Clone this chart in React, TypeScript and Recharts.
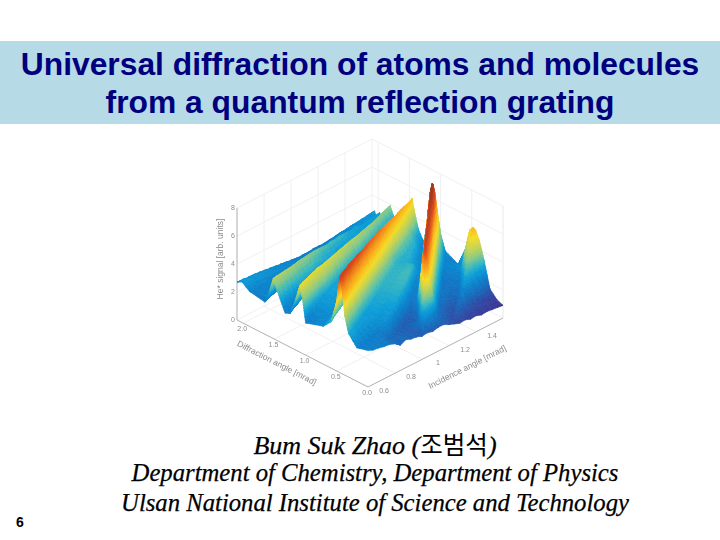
import React from "react";
import { ComposedChart, Scatter, Line, ReferenceLine, XAxis, YAxis } from "recharts";

// Incidence angle of each slice (mrad)
const incidenceAngles = [0.6, 0.64, 0.68, 0.72, 0.76, 0.8, 0.84, 0.88, 0.92, 0.96, 1.0, 1.04, 1.08, 1.12, 1.16, 1.2, 1.24, 1.28, 1.32, 1.36, 1.4, 1.44, 1.48, 1.52, 1.56, 1.6];

// Each slice: [diffraction angle (mrad), He+ signal] read along the surface
const s00 = [[0,2.6],[.18,2.4],[.31,3.1],[.37,4.2],[.41,5.8],[.45,6.9],[.5,5.0],[.59,3.3],[.72,2.7],[1.0,2.3],[1.05,3.9],[1.09,4.8],[1.16,3.6],[1.25,2.4],[1.33,2.25],[1.46,3.6],[1.52,4.3],[1.58,3.2],[1.65,2.3],[1.9,2.5],[2.02,2.9],[2.1,2.7]];
const s01 = [[0,2.45],[.2,2.4],[.35,3.1],[.41,4.1],[.45,5.9],[.49,6.9],[.54,5.2],[.63,3.4],[.76,2.7],[1.03,2.4],[1.08,4.0],[1.12,4.8],[1.19,3.7],[1.28,2.5],[1.36,2.3],[1.48,3.6],[1.54,4.25],[1.6,3.2],[1.67,2.4],[1.9,2.5],[2.02,2.95],[2.1,2.7]];
const s02 = [[0,2.4],[.22,2.4],[.39,3.0],[.45,4.0],[.49,5.7],[.53,6.85],[.58,5.3],[.67,3.4],[.8,2.7],[1.06,2.5],[1.11,4.1],[1.15,4.75],[1.22,3.7],[1.31,2.5],[1.39,2.4],[1.5,3.6],[1.56,4.2],[1.62,3.2],[1.69,2.4],[1.9,2.5],[2.02,2.8],[2.1,2.65]];
const s03 = [[0,2.3],[.24,2.4],[.43,3.0],[.49,4.0],[.53,5.7],[.57,6.85],[.62,5.3],[.71,3.4],[.84,2.7],[1.09,2.7],[1.15,4.3],[1.18,4.75],[1.25,3.7],[1.34,2.6],[1.41,2.4],[1.52,3.6],[1.58,4.15],[1.64,3.2],[1.71,2.4],[1.9,2.5],[2.02,2.9],[2.1,2.65]];
const s04 = [[0,2.25],[.26,2.4],[.47,3.0],[.53,3.9],[.57,5.6],[.61,6.8],[.66,5.3],[.75,3.4],[.88,2.8],[1.12,2.9],[1.18,4.3],[1.21,4.7],[1.28,3.7],[1.37,2.6],[1.44,2.4],[1.54,3.6],[1.6,4.1],[1.66,3.2],[1.73,2.4],[1.9,2.45],[2.02,2.75],[2.1,2.6]];
const s05 = [[0,2.1],[.14,2.1],[.28,2.5],[.51,3.0],[.57,3.9],[.61,5.5],[.65,6.7],[.7,5.2],[.79,3.4],[.92,2.8],[1.15,3.0],[1.21,4.3],[1.24,4.7],[1.31,3.7],[1.45,2.6],[1.56,3.6],[1.62,4.05],[1.68,3.2],[1.75,2.4],[1.9,2.4],[2.02,2.8],[2.1,2.55]];
const s06 = [[0,1.8],[.17,1.95],[.25,2.5],[.4,2.8],[.55,3.0],[.61,3.8],[.65,5.4],[.69,6.7],[.74,5.2],[.83,3.4],[.96,2.8],[1.17,3.1],[1.23,4.3],[1.26,4.65],[1.33,3.7],[1.47,2.7],[1.59,3.6],[1.65,4.0],[1.71,3.1],[1.78,2.4],[1.9,2.4],[2.02,2.65],[2.1,2.5]];
const s07 = [[0,2.0],[.2,1.9],[.29,2.7],[.43,2.9],[.59,3.1],[.65,3.8],[.69,5.3],[.73,6.6],[.78,5.1],[.87,3.4],[1.0,2.8],[1.2,3.1],[1.26,4.2],[1.29,4.6],[1.36,3.7],[1.5,2.7],[1.61,3.6],[1.67,3.95],[1.73,3.1],[1.8,2.4],[1.9,2.35],[2.02,2.7],[2.1,2.45]];
const s08 = [[0,1.85],[.24,1.8],[.34,2.8],[.48,3.0],[.63,3.1],[.69,3.8],[.73,5.2],[.77,6.5],[.82,5.0],[.91,3.3],[1.04,2.8],[1.23,3.1],[1.29,4.2],[1.32,4.55],[1.39,3.7],[1.53,2.8],[1.63,3.6],[1.69,3.9],[1.75,3.1],[1.82,2.4],[1.92,2.3],[2.02,2.55],[2.1,2.4]];
const s09 = [[0,1.8],[.28,1.8],[.39,2.9],[.52,3.0],[.67,3.2],[.73,3.8],[.77,5.2],[.81,6.5],[.86,5.0],[.95,3.3],[1.08,2.8],[1.26,3.1],[1.32,4.1],[1.35,4.5],[1.42,3.6],[1.56,2.8],[1.65,3.5],[1.71,3.85],[1.77,3.0],[1.84,2.4],[1.93,2.3],[2.02,2.6],[2.1,2.35]];
const s10 = [[0,1.65],[.32,1.7],[.43,3.1],[.56,3.1],[.71,3.2],[.77,3.8],[.81,5.1],[.85,6.4],[.9,4.9],[.99,3.2],[1.12,2.8],[1.29,3.1],[1.35,4.1],[1.38,4.45],[1.45,3.6],[1.59,2.8],[1.67,3.4],[1.73,3.8],[1.79,3.0],[1.86,2.4],[1.94,2.25],[2.02,2.45],[2.1,2.3]];
const s11 = [[0,1.7],[.04,2.0],[.08,3.0],[.13,2.2],[.19,1.7],[.36,1.7],[.49,3.2],[.62,3.2],[.75,3.3],[.81,3.8],[.85,5.1],[.89,6.4],[.94,4.9],[1.03,3.2],[1.16,2.8],[1.32,3.1],[1.38,4.1],[1.41,4.4],[1.48,3.6],[1.61,2.9],[1.69,3.3],[1.75,3.7],[1.81,3.0],[1.88,2.4],[1.95,2.2],[2.02,2.5],[2.1,2.25]];
const s12 = [[0,1.6],[.06,2.6],[.1,4.0],[.13,5.0],[.17,4.0],[.22,2.2],[.28,1.8],[.4,1.7],[.53,3.3],[.66,3.2],[.79,3.3],[.85,3.8],[.89,5.0],[.93,6.3],[.98,4.8],[1.07,3.2],[1.2,2.8],[1.35,3.1],[1.41,4.0],[1.44,4.35],[1.51,3.6],[1.63,2.9],[1.71,3.2],[1.77,3.6],[1.83,2.9],[1.9,2.4],[1.96,2.2],[2.02,2.4],[2.1,2.25]];
const s13 = [[0,1.7],[.07,2.2],[.13,4.6],[.18,6.3],[.21,6.9],[.24,6.1],[.29,3.9],[.35,2.0],[.44,1.8],[.58,3.4],[.7,3.3],[.83,3.3],[.89,3.8],[.93,5.0],[.97,6.3],[1.02,4.8],[1.11,3.2],[1.24,2.8],[1.38,3.1],[1.44,4.0],[1.47,4.3],[1.54,3.6],[1.66,2.9],[1.73,3.2],[1.79,3.5],[1.85,2.9],[1.91,2.4],[1.97,2.2],[2.03,2.5],[2.1,2.25]];
const s14 = [[0,1.7],[.09,2.0],[.17,3.4],[.23,5.2],[.265,6.4],[.29,6.9],[.32,6.2],[.37,3.9],[.43,2.3],[.52,2.1],[.62,3.4],[.74,3.3],[.87,3.3],[.93,3.8],[.97,4.9],[1.01,6.2],[1.06,4.7],[1.15,3.2],[1.28,2.8],[1.41,3.1],[1.47,3.9],[1.5,4.25],[1.57,3.6],[1.68,2.9],[1.75,3.1],[1.81,3.5],[1.87,2.9],[1.92,2.4],[1.97,2.2],[2.03,2.45],[2.1,2.3]];
const s15 = [[0,1.5],[.16,2.0],[.24,3.5],[.3,5.3],[.335,6.5],[.36,7.0],[.39,6.3],[.44,4.0],[.5,2.4],[.58,2.3],[.68,3.5],[.79,3.3],[.91,3.3],[.97,3.8],[1.01,4.8],[1.05,6.1],[1.1,4.6],[1.19,3.2],[1.32,2.9],[1.44,3.1],[1.49,3.9],[1.525,4.2],[1.59,3.6],[1.7,2.9],[1.77,3.1],[1.83,3.4],[1.88,2.9],[1.93,2.4],[1.98,2.2],[2.03,2.55],[2.1,2.3]];
const s16 = [[0,1.35],[.24,2.0],[.32,3.5],[.38,5.3],[.415,6.5],[.44,7.0],[.47,6.3],[.52,4.0],[.58,2.4],[.65,2.4],[.73,3.5],[.83,3.3],[.95,3.3],[1.01,3.7],[1.05,4.7],[1.09,6.0],[1.14,4.5],[1.23,3.2],[1.36,2.9],[1.47,3.1],[1.52,3.9],[1.55,4.15],[1.62,3.6],[1.72,2.9],[1.79,3.1],[1.85,3.4],[1.9,2.9],[1.94,2.4],[1.98,2.25],[2.03,2.45],[2.1,2.3]];
const s17 = [[0,1.2],[.06,1.6],[.12,1.4],[.31,2.1],[.39,3.6],[.45,5.4],[.485,6.6],[.51,7.1],[.54,6.4],[.59,4.1],[.65,2.5],[.71,2.5],[.78,3.4],[.88,3.3],[.99,3.2],[1.05,3.6],[1.09,4.6],[1.13,5.9],[1.18,4.4],[1.27,3.2],[1.4,2.9],[1.5,3.1],[1.55,3.8],[1.58,4.1],[1.65,3.6],[1.75,2.9],[1.81,3.1],[1.87,3.3],[1.91,2.9],[1.95,2.4],[1.99,2.3],[2.04,2.6],[2.1,2.35]];
const s18 = [[0,1.25],[.12,1.9],[.2,1.5],[.39,2.2],[.47,3.6],[.53,5.4],[.565,6.6],[.59,7.1],[.62,6.4],[.67,4.1],[.73,2.5],[.78,2.6],[.84,3.3],[.93,3.2],[1.03,3.2],[1.09,3.6],[1.13,4.5],[1.17,5.8],[1.22,4.3],[1.31,3.2],[1.44,2.9],[1.53,3.1],[1.58,3.8],[1.61,4.05],[1.68,3.6],[1.77,2.9],[1.83,3.0],[1.89,3.2],[1.93,2.9],[1.96,2.4],[2.0,2.35],[2.05,2.55],[2.1,2.4]];
const s19 = [[0,1.1],[.1,1.5],[.17,2.2],[.25,1.7],[.46,2.2],[.54,3.6],[.6,5.3],[.635,6.5],[.66,7.0],[.69,6.3],[.74,4.0],[.8,2.5],[.86,2.7],[.98,3.2],[1.07,3.3],[1.13,3.7],[1.17,4.5],[1.21,5.7],[1.26,4.3],[1.35,3.2],[1.47,2.9],[1.56,3.1],[1.61,3.7],[1.64,4.0],[1.7,3.6],[1.79,2.9],[1.85,3.0],[1.91,3.1],[1.94,2.9],[1.97,2.45],[2.0,2.4],[2.05,2.7],[2.1,2.45]];
const s20 = [[0,1.15],[.12,1.6],[.21,2.6],[.29,1.9],[.54,2.2],[.62,3.7],[.68,5.5],[.715,6.7],[.74,7.2],[.77,6.5],[.82,4.2],[.88,2.5],[.94,2.7],[1.04,3.2],[1.11,3.3],[1.17,3.7],[1.21,4.5],[1.25,5.65],[1.3,4.2],[1.39,3.2],[1.51,2.9],[1.6,3.1],[1.64,3.7],[1.67,3.95],[1.73,3.5],[1.82,2.9],[1.88,3.0],[1.94,3.1],[1.97,2.6],[2.0,2.4],[2.05,2.65],[2.1,2.5]];
const s21 = [[0,1.0],[.14,1.5],[.2,2.3],[.27,3.1],[.33,2.4],[.38,2.1],[.62,2.3],[.7,3.8],[.76,5.6],[.795,6.8],[.82,7.3],[.85,6.6],[.9,4.3],[.96,2.5],[1.02,2.7],[1.1,3.2],[1.15,3.3],[1.21,3.7],[1.25,4.5],[1.29,5.6],[1.34,4.2],[1.43,3.2],[1.55,2.9],[1.63,3.1],[1.67,3.6],[1.7,3.9],[1.76,3.5],[1.85,2.9],[1.92,3.0],[1.97,2.7],[2.0,2.4],[2.05,2.8],[2.1,2.55]];
const s22 = [[0,1.05],[.14,1.4],[.25,2.8],[.32,3.7],[.38,2.9],[.44,2.3],[.69,2.4],[.77,3.8],[.83,5.6],[.865,6.8],[.89,7.3],[.92,6.6],[.97,4.3],[1.03,2.5],[1.08,2.7],[1.15,3.2],[1.19,3.3],[1.25,3.7],[1.29,4.4],[1.33,5.5],[1.38,4.1],[1.47,3.1],[1.59,2.9],[1.66,3.1],[1.7,3.6],[1.73,3.9],[1.79,3.5],[1.88,2.9],[1.94,3.0],[2.0,2.4],[2.05,2.75],[2.1,2.6]];
const s23 = [[0,1.0],[.14,1.3],[.27,2.9],[.34,4.0],[.39,4.4],[.44,3.8],[.5,2.6],[.77,2.5],[.85,3.9],[.91,5.7],[.945,6.9],[.97,7.4],[1.0,6.7],[1.05,4.4],[1.11,2.5],[1.16,2.7],[1.22,3.1],[1.29,3.6],[1.33,4.3],[1.37,5.4],[1.42,4.0],[1.51,3.1],[1.62,2.9],[1.69,3.1],[1.73,3.6],[1.76,3.9],[1.82,3.5],[1.9,2.9],[1.96,3.0],[2.0,2.45],[2.05,2.85],[2.1,2.65]];
const s24 = [[0,.95],[.14,1.2],[.28,2.9],[.36,4.5],[.43,5.0],[.49,4.5],[.55,2.8],[.62,2.4],[.85,2.6],[.93,3.9],[.99,5.7],[1.025,6.9],[1.05,7.4],[1.08,6.7],[1.13,4.4],[1.19,2.5],[1.24,2.7],[1.3,3.1],[1.33,3.6],[1.37,4.2],[1.41,5.3],[1.46,3.9],[1.54,3.1],[1.65,2.9],[1.71,3.1],[1.75,3.6],[1.78,3.9],[1.84,3.5],[1.92,2.9],[1.97,3.0],[2.0,2.5],[2.05,2.8],[2.1,2.7]];
const s25 = [[0,.9],[.1,1.1],[.21,1.6],[.3,3.4],[.38,4.7],[.44,5.3],[.48,5.4],[.53,5.1],[.6,3.6],[.72,2.2],[.93,2.7],[1.0,3.7],[1.06,5.4],[1.095,6.5],[1.12,7.0],[1.15,6.2],[1.2,4.1],[1.25,2.6],[1.29,2.7],[1.36,3.3],[1.41,4.2],[1.46,5.2],[1.51,3.9],[1.58,3.1],[1.68,2.9],[1.74,3.1],[1.78,3.6],[1.81,3.9],[1.86,3.5],[1.94,2.9],[1.98,3.0],[2.02,2.5],[2.06,2.95],[2.1,2.75]];
const slices = [s00, s01, s02, s03, s04, s05, s06, s07, s08, s09, s10, s11, s12, s13, s14, s15, s16, s17, s18, s19, s20, s21, s22, s23, s24, s25];

// Axis ticks
const zTicks = [0, 2, 4, 6, 8];
const dTicks = [0, 0.5, 1, 1.5, 2];
const dTickLabels = ["0.0", "0.5", "1.0", "1.5", "2.0"];
const iTicks = [0.6, 0.8, 1, 1.2, 1.4];
const iTickLabels = ["0.6", "0.8", "1", "1.2", "1.4"];

const I_MIN = 0.6, I_MAX = 1.6, D_MAX = 2.1, Z_MAX = 8;

// Oblique view of the (incidence, diffraction, signal) box
const project = (i: number, d: number, z: number) => {
  const u = (i - I_MIN) / (I_MAX - I_MIN);
  const v = d / D_MAX;
  return { x: 368 + 135 * u - 131 * v, y: 387 - 69 * u - 67 * v - 14 * z };
};

const ramp: [number, number[]][] = [
  [0.9, [62, 50, 145]], [1.5, [42, 82, 170]], [2.0, [22, 110, 190]], [2.5, [12, 132, 205]],
  [3.0, [14, 160, 216]], [3.4, [60, 185, 190]], [3.8, [130, 200, 140]], [4.3, [190, 210, 90]],
  [4.9, [243, 220, 42]], [5.4, [251, 185, 31]], [6.0, [240, 138, 30]], [6.6, [222, 77, 30]],
  [7.2, [168, 60, 34]], [7.5, [143, 58, 40]],
];
const colorOf = (z: number) => {
  if (z <= ramp[0][0]) return `rgb(${ramp[0][1].join(",")})`;
  for (let n = 1; n < ramp.length; n++) {
    if (z <= ramp[n][0]) {
      const [a, ca] = ramp[n - 1];
      const [b, cb] = ramp[n];
      const t = (z - a) / (b - a);
      return `rgb(${ca.map((c, m) => Math.round(c + (cb[m] - c) * t)).join(",")})`;
    }
  }
  return `rgb(${ramp[ramp.length - 1][1].join(",")})`;
};

type V = { x: number; y: number; z: number; d: number };
const toVerts = (k: number): V[] =>
  slices[k].map(([d, z]) => ({ ...project(incidenceAngles[k], d, z), z, d })).reverse();

// Pair up the vertices of two neighbouring slices so each crest meets its own crest
const pairCost = (a: V, b: V) => 3 * Math.abs(a.d - b.d) + Math.abs(a.z - b.z);
const loft = (A: V[], B: V[]): V[][] => {
  const n = A.length, m = B.length;
  const cost = Array.from({ length: n }, () => new Array(m).fill(Infinity));
  const from = Array.from({ length: n }, () => new Array(m).fill(0));
  cost[0][0] = pairCost(A[0], B[0]);
  for (let a = 0; a < n; a++) {
    for (let b = 0; b < m; b++) {
      if (a === 0 && b === 0) continue;
      const c = pairCost(A[a], B[b]);
      const opts = [
        a > 0 && b > 0 ? cost[a - 1][b - 1] : Infinity,
        a > 0 ? cost[a - 1][b] + 0.05 : Infinity,
        b > 0 ? cost[a][b - 1] + 0.05 : Infinity,
      ];
      const best = opts.indexOf(Math.min(...opts));
      cost[a][b] = opts[best] + c;
      from[a][b] = best;
    }
  }
  const path: [number, number][] = [];
  let a = n - 1, b = m - 1;
  while (a > 0 || b > 0) {
    path.unshift([a, b]);
    const f = from[a][b];
    if (f === 0) { a--; b--; } else if (f === 1) a--; else b--;
  }
  path.unshift([0, 0]);
  const tris: V[][] = [];
  for (let p = 1; p < path.length; p++) {
    const [a0, b0] = path[p - 1];
    const [a1, b1] = path[p];
    if (a1 > a0 && b1 > b0) {
      tris.push([A[a0], A[a1], B[b0]], [A[a1], B[b1], B[b0]]);
    } else if (a1 > a0) tris.push([A[a0], A[a1], B[b0]]);
    else tris.push([A[a0], B[b1], B[b0]]);
  }
  return tris;
};

const mid = (p: V, q: V): V => ({ x: (p.x + q.x) / 2, y: (p.y + q.y) / 2, z: (p.z + q.z) / 2, d: (p.d + q.d) / 2 });
const split = (t: V[], depth: number, out: V[][]) => {
  const zs = t.map((v) => v.z);
  if (depth === 0 || Math.max(...zs) - Math.min(...zs) < 0.22) {
    out.push(t);
    return;
  }
  let e = 0, best = -1;
  for (let n = 0; n < 3; n++) {
    const gap = Math.abs(t[n].z - t[(n + 1) % 3].z);
    if (gap > best) { best = gap; e = n; }
  }
  const p = t[e], q = t[(e + 1) % 3], r = t[(e + 2) % 3];
  const h = mid(p, q);
  split([p, h, r], depth - 1, out);
  split([h, q, r], depth - 1, out);
};

// One scatter point per mesh facet, far facets first
const facets: { x: number; y: number; polys: { pts: string; fill: string }[] }[] = [];
for (let k = slices.length - 1; k > 0; k--) {
  loft(toVerts(k), toVerts(k - 1)).forEach((t) => {
    const cx = (t[0].x + t[1].x + t[2].x) / 3;
    const cy = (t[0].y + t[1].y + t[2].y) / 3;
    const pieces: V[][] = [];
    split(t, 7, pieces);
    facets.push({
      x: cx,
      y: cy,
      polys: pieces.map((s) => ({
        pts: s.map((v) => `${(v.x - cx).toFixed(2)},${(v.y - cy).toFixed(2)}`).join(" "),
        fill: colorOf((s[0].z + s[1].z + s[2].z) / 3),
      })),
    });
  });
}

const renderFacet = (p: any) => (
  <g transform={`translate(${p.cx} ${p.cy})`}>
    {p.payload.polys.map((s: any, n: number) => (
      <polygon key={n} points={s.pts} fill={s.fill} stroke={s.fill} strokeWidth={0.7} strokeLinejoin="round" />
    ))}
  </g>
);

type Pt = { x: number; y: number };
const seg = (a: Pt, b: Pt) => [a, b] as [Pt, Pt];
const gridSegments: [Pt, Pt][] = [
  ...zTicks.flatMap((z) => [
    seg(project(I_MIN, D_MAX, z), project(I_MAX, D_MAX, z)),
    seg(project(I_MAX, D_MAX, z), project(I_MAX, 0, z)),
  ]),
  ...dTicks.flatMap((d) => [
    seg(project(I_MIN, d, 0), project(I_MAX, d, 0)),
    seg(project(I_MAX, d, 0), project(I_MAX, d, Z_MAX)),
  ]),
  ...iTicks.flatMap((i) => [
    seg(project(i, 0, 0), project(i, D_MAX, 0)),
    seg(project(i, D_MAX, 0), project(i, D_MAX, Z_MAX)),
  ]),
  seg(project(I_MAX, D_MAX, 0), project(I_MAX, D_MAX, Z_MAX)),
  seg(project(I_MAX, 0, 0), project(I_MAX, 0, Z_MAX)),
];
const axisSegments: [Pt, Pt][] = [
  seg(project(I_MIN, D_MAX, 0), project(I_MIN, D_MAX, Z_MAX)),
  seg(project(I_MIN, D_MAX, 0), project(I_MIN, 0, 0)),
  seg(project(I_MIN, 0, 0), project(I_MAX, 0, 0)),
];

type Lab = { x: number; y: number; text: string; dx: number; dy: number; rot?: number; size?: number };
const labels: Lab[] = [
  ...zTicks.map((z) => ({ ...project(I_MIN, D_MAX, z), text: String(z), dx: -4, dy: 2, size: 7 })),
  ...dTicks.map((d, n) => ({ ...project(I_MIN, d, 0), text: dTickLabels[n], dx: -1, dy: 8, size: 7 })),
  ...iTicks.map((i, n) => ({ ...project(i, 0, 0), text: iTickLabels[n], dx: 16, dy: 6, size: 7 })),
  { ...project(I_MIN, D_MAX, 4), text: "He* signal [arb. units]", dx: -14, dy: -5, rot: -90, size: 8.5 },
  { ...project(I_MIN, 1.05, 0), text: "Diffraction angle [mrad]", dx: -27, dy: 12, rot: 27, size: 8.5 },
  { ...project(1.1, 0, 0), text: "Incidence angle [mrad]", dx: 33, dy: 17, rot: -27, size: 8.5 },
];

const renderLabel = (p: any) => {
  const l: Lab = p.payload;
  const x = p.cx + l.dx;
  const y = p.cy + l.dy;
  return (
    <text key={l.text} x={x} y={y} textAnchor="middle" fontFamily="Liberation Sans" fontSize={l.size} fill="#8c8c8c"
      transform={l.rot ? `rotate(${l.rot} ${x} ${y})` : undefined}>
      {l.text}
    </text>
  );
};

const abs = (top: number, extra: React.CSSProperties): React.CSSProperties => ({
  position: "absolute", left: 0, width: 720, top, textAlign: "center", whiteSpace: "nowrap", ...extra,
});
const titleStyle: React.CSSProperties = { fontFamily: "Liberation Sans", fontWeight: 700, fontSize: 31.8, color: "#00007f", lineHeight: "38px" };
const bylineStyle: React.CSSProperties = { fontFamily: "Liberation Serif", fontStyle: "italic", fontSize: 24.7, color: "#000", lineHeight: "30px", left: 15, WebkitTextStroke: "0.25px #000" };
const layer: React.CSSProperties = { position: "absolute", left: 0, top: 0, filter: "blur(0.5px)" };
const chartMargin = { top: 0, right: 0, bottom: 0, left: 0 };

export default function App() {
  return (
    <div style={{ position: "absolute", left: 0, top: 0, width: 720, height: 540, background: "#fff", overflow: "hidden" }}>
      <div style={{ position: "absolute", left: 0, top: 41, width: 720, height: 83, background: "#b7dae7" }} />
      <div style={abs(45, titleStyle)}>Universal diffraction of atoms and molecules</div>
      <div style={abs(83, titleStyle)}>from a quantum reflection grating</div>
      <div style={layer}>
        <ComposedChart width={720} height={540} margin={chartMargin} data={labels}>
          <XAxis type="number" dataKey="x" domain={[0, 720]} hide />
          <YAxis type="number" domain={[0, 540]} reversed hide />
          {gridSegments.map((s, n) => (
            <ReferenceLine key={`g${n}`} segment={s} stroke="#f0f0f0" strokeWidth={1} />
          ))}
          {axisSegments.map((s, n) => (
            <ReferenceLine key={`a${n}`} segment={s} stroke="#b4b4b4" strokeWidth={1} />
          ))}
          <Line dataKey="y" stroke="none" dot={renderLabel} activeDot={false} isAnimationActive={false} />
        </ComposedChart>
      </div>
      <div style={layer}>
        <ComposedChart width={720} height={540} margin={chartMargin}>
          <XAxis type="number" dataKey="x" domain={[0, 720]} hide />
          <YAxis type="number" dataKey="y" domain={[0, 540]} reversed hide />
          <Scatter data={facets} dataKey="y" shape={renderFacet} isAnimationActive={false} />
        </ComposedChart>
      </div>
      <div style={abs(429, { ...bylineStyle, fontSize: 26 })}>
        Bum Suk Zhao (<span style={{ fontFamily: "Noto Sans CJK KR", fontStyle: "normal", fontSize: 24.5, WebkitTextStroke: "0" }}>조범석</span>)
      </div>
      <div style={abs(458, bylineStyle)}>Department of Chemistry, Department of Physics</div>
      <div style={abs(488, bylineStyle)}>Ulsan National Institute of Science and Technology</div>
      <div style={{ position: "absolute", left: 16, top: 514, fontFamily: "Liberation Sans", fontWeight: 700, fontSize: 14, color: "#000" }}>6</div>
    </div>
  );
}
